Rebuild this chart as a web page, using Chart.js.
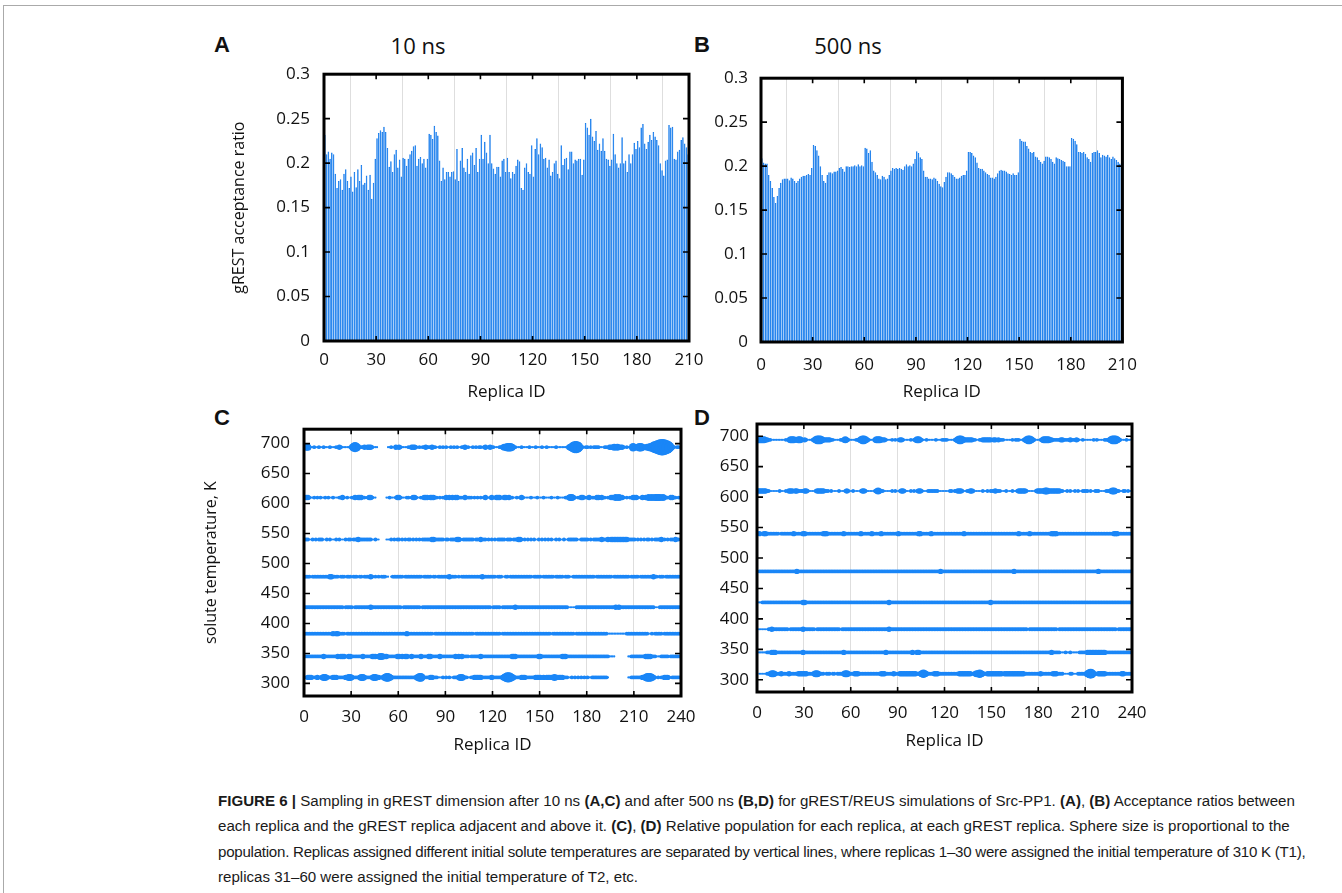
<!DOCTYPE html>
<html>
<head>
<meta charset="utf-8">
<script src="https://cdn.jsdelivr.net/npm/chart.js@4.4.1/dist/chart.umd.min.js"></script>
<style>
  body { margin: 0; background: #fff; width: 1342px; height: 893px; position: relative; overflow: hidden; font-family: "Open Sans", sans-serif; color: #111; }
  .frame { position: absolute; left: 3px; top: 5px; right: -5px; bottom: -5px; border-left: 1px solid #aaa; border-top: 1px solid #aaa; }
  .box { position: absolute; }
  .letter { position: absolute; font-family: "Liberation Sans", Arial, sans-serif; font-weight: bold; font-size: 22px; line-height: 22px; }
  .ptitle { position: absolute; font-size: 22px; line-height: 22px; transform: translateX(-50%); white-space: nowrap; }
  #cap { position: absolute; left: 218px; top: 788px; font-family: "Liberation Sans", Arial, sans-serif; font-size: 15.1px; line-height: 25.3px; color: #1a1a1a; white-space: nowrap; }
  #cap .l3 { letter-spacing: -0.25px; }
</style>
</head>
<body>
<div class="frame"></div>

<div class="letter" style="left:214px;top:34px">A</div>
<div class="ptitle" style="left:418px;top:34px">10 ns</div>
<div class="letter" style="left:694px;top:34px">B</div>
<div class="ptitle" style="left:848px;top:34px">500 ns</div>
<div class="letter" style="left:214px;top:407px">C</div>
<div class="letter" style="left:694px;top:407px">D</div>

<div class="box" style="left:230px;top:50px;width:486px;height:352px"><canvas id="chartA"></canvas></div>
<div class="box" style="left:700px;top:55px;width:450px;height:347px"><canvas id="chartB"></canvas></div>
<div class="box" style="left:202px;top:405px;width:505px;height:350px"><canvas id="chartC"></canvas></div>
<div class="box" style="left:700px;top:405px;width:458px;height:346px"><canvas id="chartD"></canvas></div>

<div id="cap"><div><b>FIGURE 6 |</b> Sampling in gREST dimension after 10 ns <b>(A,C)</b> and after 500 ns <b>(B,D)</b> for gREST/REUS simulations of Src-PP1. <b>(A)</b>, <b>(B)</b> Acceptance ratios between</div><div>each replica and the gREST replica adjacent and above it. <b>(C)</b>, <b>(D)</b> Relative population for each replica, at each gREST replica. Sphere size is proportional to the</div><div class="l3">population. Replicas assigned different initial solute temperatures are separated by vertical lines, where replicas 1–30 were assigned the initial temperature of 310 K (T1),</div><div>replicas 31–60 were assigned the initial temperature of T2, etc.</div></div>

<script>
// Acceptance ratios, replicas 1..210, panel A (10 ns)
const ratio10ns = [
  0.232, 0.21, 0.213, 0.205, 0.212, 0.21, 0.188, 0.172, 0.18, 0.182, 0.17, 0.188, 0.193, 0.18, 0.172, 0.185, 0.168, 0.19, 0.173, 0.193, 0.18, 0.198, 0.176, 0.178, 0.186, 0.17, 0.187, 0.16, 0.178, 0.205,
  0.228, 0.234, 0.237, 0.235, 0.241, 0.235, 0.217, 0.196, 0.202, 0.19, 0.21, 0.215, 0.195, 0.204, 0.185, 0.206, 0.205, 0.197, 0.205, 0.21, 0.214, 0.219, 0.22, 0.197, 0.205, 0.207, 0.2, 0.205, 0.195, 0.205,
  0.233, 0.232, 0.227, 0.242, 0.235, 0.231, 0.203, 0.18, 0.195, 0.182, 0.19, 0.19, 0.185, 0.19, 0.191, 0.182, 0.216, 0.18, 0.203, 0.217, 0.195, 0.19, 0.205, 0.188, 0.209, 0.212, 0.198, 0.217, 0.19, 0.205,
  0.232, 0.205, 0.224, 0.212, 0.2, 0.232, 0.2, 0.194, 0.188, 0.196, 0.196, 0.185, 0.203, 0.205, 0.19, 0.206, 0.19, 0.183, 0.19, 0.188, 0.197, 0.204, 0.202, 0.172, 0.17, 0.195, 0.2, 0.19, 0.188, 0.22,
  0.185, 0.216, 0.228, 0.21, 0.222, 0.218, 0.205, 0.206, 0.195, 0.204, 0.186, 0.19, 0.2, 0.203, 0.188, 0.183, 0.22, 0.198, 0.205, 0.206, 0.193, 0.213, 0.213, 0.2, 0.204, 0.203, 0.205, 0.205, 0.187, 0.204,
  0.245, 0.24, 0.232, 0.25, 0.23, 0.225, 0.236, 0.215, 0.222, 0.214, 0.228, 0.214, 0.205, 0.204, 0.197, 0.204, 0.233, 0.21, 0.2, 0.195, 0.2, 0.229, 0.2, 0.203, 0.19, 0.21, 0.2, 0.21, 0.223, 0.216,
  0.225, 0.218, 0.24, 0.244, 0.222, 0.216, 0.224, 0.232, 0.226, 0.235, 0.23, 0.226, 0.22, 0.2, 0.192, 0.186, 0.203, 0.204, 0.243, 0.24, 0.241, 0.205, 0.204, 0.213, 0.215, 0.226, 0.229, 0.222, 0.218, 0.21
];

// Acceptance ratios, replicas 1..210, panel B (500 ns)
const ratio500ns = [
  0.209, 0.204, 0.203, 0.203, 0.19, 0.183, 0.175, 0.165, 0.158, 0.166, 0.175, 0.181, 0.185, 0.186, 0.186, 0.186, 0.184, 0.187, 0.186, 0.183, 0.181, 0.183, 0.186, 0.188, 0.189, 0.189, 0.19, 0.191, 0.19, 0.198,
  0.224, 0.223, 0.218, 0.212, 0.2, 0.19, 0.183, 0.181, 0.19, 0.193, 0.193, 0.192, 0.194, 0.194, 0.195, 0.198, 0.199, 0.197, 0.194, 0.2, 0.2, 0.199, 0.2, 0.2, 0.201, 0.2, 0.202, 0.2, 0.201, 0.2,
  0.221, 0.22, 0.215, 0.218, 0.205, 0.195, 0.193, 0.19, 0.186, 0.185, 0.189, 0.188, 0.185, 0.186, 0.19, 0.195, 0.198, 0.197, 0.198, 0.197, 0.198, 0.197, 0.196, 0.2, 0.202, 0.2, 0.201, 0.2, 0.203, 0.208,
  0.217, 0.215, 0.21, 0.208, 0.195, 0.188, 0.188, 0.186, 0.186, 0.185, 0.187, 0.186, 0.183, 0.18, 0.177, 0.176, 0.182, 0.188, 0.193, 0.193, 0.192, 0.19, 0.188, 0.186, 0.186, 0.187, 0.189, 0.19, 0.19, 0.195,
  0.216, 0.216, 0.215, 0.212, 0.21, 0.204, 0.198, 0.197, 0.197, 0.195, 0.193, 0.191, 0.19, 0.187, 0.187, 0.186, 0.188, 0.192, 0.195, 0.196, 0.195, 0.195, 0.194, 0.192, 0.191, 0.19, 0.192, 0.19, 0.19, 0.193,
  0.231, 0.229, 0.228, 0.228, 0.223, 0.22, 0.216, 0.215, 0.216, 0.211, 0.21, 0.207, 0.205, 0.203, 0.206, 0.211, 0.211, 0.21, 0.208, 0.205, 0.203, 0.21, 0.209, 0.208, 0.207, 0.206, 0.205, 0.2, 0.2, 0.2,
  0.232, 0.231, 0.229, 0.225, 0.216, 0.216, 0.215, 0.216, 0.214, 0.21, 0.208, 0.205, 0.215, 0.216, 0.216, 0.218, 0.215, 0.21, 0.213, 0.212, 0.211, 0.213, 0.21, 0.208, 0.211, 0.209, 0.207, 0.205, 0.203, 0.2
];

// gREST replica temperatures (K), bottom to top
const soluteTemps = [310, 345, 383, 427, 478, 540, 610, 694];

// Relative population per replica 1..240 (one digit per replica, 0 = empty .. 9 = largest)
// Panel C (10 ns), one string per temperature, bottom to top
const popC310 = ["2233322232","2344322233","3222223344","3222234432","2223443322","3455432222","2222222222","2345532222","3322211121","2121122234","4322112233","3332222223","2222223456","6543222233","3222222333","3232333334","3333322211","2121212121","2112222222","2221000000","0000001122","2222233455","5432121223","3321222222"].join('');
const popC345 = ["2222222222","2232222222","2323332233","2222222322","2223332344","3332222223","3232332232","2222322223","3222223222","2222223232","3222212222","2232222222","2222222222","2233322222","2222222223","3222222222","2222333222","2222222222","2222222222","2222111100","0000001122","2222222333","3222111222","2212222222"].join('');
const popC383 = ["2222222222","2222222232","3322221222","2222222222","2222222222","2222222222","2222232222","2222222222","2212222222","2222222222","2222222212","2222222222","2222212222","2222222222","2222222222","2222222122","2222222222","2212222222","2222222222","2221111111","1111122222","2222222221","1212222212","2222222222"].join('');
const popC427 = ["2222222222","2222222222","2222212222","2122222222","2232222222","2222222222","2212222222","2222122222","2222222222","2222222222","2222222222","2222222221","2222212222","2222322222","2222222222","2222222222","2222222211","1112222222","2222222222","2222222232","3222222222","2222222222","2221112222","2222222222"].join('');
const popC478 = ["2222122222","2222223322","2212221222","1222122122","2232121212","2211012222","2221222222","2222212222","2122122222","2232222121","2222222222","2223222222","2212221122","1222222222","2222212222","2122222221","2222212221","1222222222","2222212222","2222221222","2222222122","2221222222","2232212221","2222222222"].join('');
const popC540 = ["2221121212","2211212111","2121112122","1222322222","2221121100","0011121212","2121212212","1212122222","2332222221","2212222332","1222222212","2131221212","1212222212","2212223321","2121212112","1212121211","2121121122","2222112222","2121222223","2223233333","3333332222","2121212122","1212222312","1212213221"].join('');
const popC610 = ["2332112121","2112121121","1122311211","2232333121","2332110000","0011211123","3211122123","3211223332","3332212122","3231323322","2131222121","2121231123","2233322332","3221121232","1111211121","1121111211","1211112234","4321223312","2312223323","2212233343","4332121223","3321232334","3434444343","2213322122"].join('');
const popC694 = ["3442112112","1121112111","2132111112","3565322232","3332111000","0001121132","3211112133","3212122322","2322112121","2112121211","2231211212","1221231232","2111223445","5542211121","1112111211","1211211111","2111111134","5677642212","2121222211","1221333434","3332121125","2345542344","5567788998","8764321221"].join('');

// Panel D (500 ns)
const popD310 = ["0111112234","4322232222","3222223333","3322223443","2221222122","1222234432","2233322222","2222222223","3322222322","2333333333","3322345432","2223332222","2222222223","3333333223","4454322333","3333333233","3333333333","3222222222","2322222223","3322221111","2211122222","2456532233","3332222222","2223322222"].join('');
const popD345 = ["1111112223","3322222222","2222222223","2222222222","2222222222","2222232222","2222222222","2222222222","2232222222","2222222223","2233222222","2222222222","2222222222","2222222222","2222222222","2222222222","2222222222","2222222222","2222222232","2222111211","2111112222","2333333333","3332222222","2222222222"].join('');
const popD383 = ["1111111223","2222222222","1222222223","2222222122","2222222222","2221222222","2222222222","2222222222","2222322222","2222222222","2222222222","2222222222","2222222222","2222222222","2222222222","2222222222","2222222222","2221222222","2222222222","2212222222","2222222222","2222222222","2222222222","1222222222"].join('');
const popD427 = ["1112222222","2222222222","2222222223","3222222222","2222222222","2222222222","2222222222","2222222222","2222322222","2222222222","2222222222","2222222222","2222222222","2222222222","2222222223","2222222222","2222222222","2222222222","2222222222","2222222222","2222222222","2222222222","2222222222","2222222222"].join('');
const popD478 = ["1222222222","2222222222","2222232222","2222222222","2222222222","2222222222","2222222222","2222222222","2222222222","2222222222","2222222222","2222222322","2222222222","2222222222","2222222222","2222222222","2222322222","2222222222","2222222222","2222222222","2222222222","2222222232","2222222222","2222222222"].join('');
const popD540 = ["2322332222","2222122222","2223222223","3222222222","2233322222","2222232222","2222223222","2223222223","2222222222","3222222222","2223322222","2322222222","2222222222","2232222222","2222222222","2222222222","2222222322","2222322222","2222222233","3322222222","2222222222","2222222222","2222222233","3222222222"].join('');
const popD610 = ["3333332211","1111211121","3332332222","3321111233","3332221211","1121112321","1211112332","1111123432","2111112121","1233211121","2123321112","2222221111","1112212233","3211223321","1111211212","2232221112","1112112333","3321111123","3333443333","3333221121","2112121122","2212112221","1112223443","2211221211"].join('');
const popD694 = ["3444433221","1111111121","3444334432","3211123455","5433333221","1112234321","1112234554","3211134443","3321112121","2332111121","2344321121","1111211122","2211112345","5433333322","1122333333","2332322211","1112122211","2345543211","1234444332","2222332222","3222321121","1111121211","1122234555","4321112111"].join('');

const popRowsC = [popC310, popC345, popC383, popC427, popC478, popC540, popC610, popC694];
const popRowsD = [popD310, popD345, popD383, popD427, popD478, popD540, popD610, popD694];

const replicaTicks = [0, 30, 60, 90, 120, 150, 180, 210, 240];

const BLUE = '#1a86f7';
const TICK_FONT = { family: 'Open Sans', size: 17 };
const TITLE_FONT = { family: 'Open Sans', size: 17 };

// Thick black frame plus small inward tick marks
const framePlugin = {
    id: 'frame',
    afterDatasetsDraw(chart) {
        const { ctx, chartArea: a, scales } = chart;
        ctx.save();
        ctx.strokeStyle = '#000';
        ctx.lineWidth = 1.6;
        ctx.beginPath();
        scales.y.ticks.forEach(t => {
            const y = scales.y.getPixelForValue(t.value);
            ctx.moveTo(a.left, y); ctx.lineTo(a.left + 6, y);
            ctx.moveTo(a.right - 6, y); ctx.lineTo(a.right, y);
        });
        scales.x.ticks.forEach(t => {
            const x = scales.x.getPixelForValue(t.value);
            ctx.moveTo(x, a.bottom); ctx.lineTo(x, a.bottom - 5);
            ctx.moveTo(x, a.top); ctx.lineTo(x, a.top + 5);
        });
        ctx.stroke();
        ctx.lineWidth = 3;
        ctx.strokeRect(a.left, a.top, a.right - a.left, a.bottom - a.top);
        ctx.restore();
    }
};

function xAxis(max, height, pad) {
    return {
        type: 'linear', min: 0, max: max, offset: false,
        afterFit: s => { s.height = height; },
        afterBuildTicks: s => { s.ticks = replicaTicks.filter(v => v <= max).map(v => ({ value: v })); },
        grid: { color: '#dedede', lineWidth: 1, drawTicks: false },
        border: { display: false },
        ticks: { font: TICK_FONT, color: '#111', padding: pad, maxRotation: 0, autoSkip: false },
        title: { display: true, text: 'Replica ID', font: TITLE_FONT, color: '#111', padding: 0 }
    };
}

function yAxis(min, max, step, width, pad, titleText) {
    return {
        type: 'linear', min: min, max: max,
        afterFit: s => { s.width = width; },
        grid: { display: false, drawTicks: false },
        border: { display: false },
        ticks: {
            stepSize: step, includeBounds: false, font: TICK_FONT, color: '#111', padding: pad,
            callback: v => String(+v.toFixed(2))
        },
        title: { display: !!titleText, text: titleText || '', font: { family: 'Open Sans', size: 16 }, color: '#111', padding: 0 }
    };
}

function makeBarChart(id, values, opts) {
    const points = values.map((v, i) => ({ x: i + 0.5, y: v }));
    return new Chart(document.getElementById(id), {
        type: 'bar',
        data: {
            datasets: [{
                data: points,
                backgroundColor: '#63aaf6',
                borderColor: '#1d7fec',
                borderWidth: 0.8,
                barPercentage: 0.95,
                categoryPercentage: 1
            }]
        },
        options: {
            responsive: true, maintainAspectRatio: false, animation: false, events: [],
            layout: { padding: { top: opts.padTop, right: opts.padRight, left: 0, bottom: 0 } },
            plugins: { legend: { display: false }, tooltip: { enabled: false } },
            scales: {
                x: xAxis(210, opts.xH, opts.xPad),
                y: yAxis(0, 0.3, 0.05, opts.yW, opts.yPad, opts.yTitle)
            }
        },
        plugins: [framePlugin]
    });
}

// population level -> bubble radius in px
function popToRadius(level) {
    return 0.3 + level * 0.8 + (level > 6 ? (level - 6) * 0.25 : 0);
}

function makeBubbleChart(id, rows, opts) {
    const points = [];
    rows.forEach((row, k) => {
        for (let i = 0; i < row.length; i++) {
            const level = +row[i];
            if (level > 0) points.push({ x: i + 0.5, y: soluteTemps[k], r: popToRadius(level) });
        }
    });
    return new Chart(document.getElementById(id), {
        type: 'bubble',
        data: {
            datasets: [{ data: points, backgroundColor: BLUE, borderWidth: 0, clip: 0 }]
        },
        options: {
            responsive: true, maintainAspectRatio: false, animation: false, events: [],
            layout: { padding: { top: opts.padTop, right: opts.padRight, left: 0, bottom: 0 } },
            plugins: { legend: { display: false }, tooltip: { enabled: false } },
            scales: {
                x: xAxis(240, opts.xH, opts.xPad),
                y: yAxis(opts.yMin, opts.yMax, 50, opts.yW, opts.yPad, opts.yTitle)
            }
        },
        plugins: [framePlugin]
    });
}

makeBarChart('chartA', ratio10ns, { padTop: 17, padRight: 27, xH: 61, xPad: 9, yW: 94, yPad: 14, yTitle: 'gREST acceptance ratio' });
makeBarChart('chartB', ratio500ns, { padTop: 18, padRight: 26, xH: 60, xPad: 13, yW: 61, yPad: 13 });
makeBubbleChart('chartC', popRowsC, { padTop: 18, padRight: 26, xH: 59, xPad: 11, yW: 102, yPad: 14, yMin: 279, yMax: 724, yTitle: 'solute temperature, K' });
makeBubbleChart('chartD', popRowsD, { padTop: 19, padRight: 26, xH: 59, xPad: 11, yW: 57, yPad: 8, yMin: 280, yMax: 720 });
</script>
</body>
</html>
